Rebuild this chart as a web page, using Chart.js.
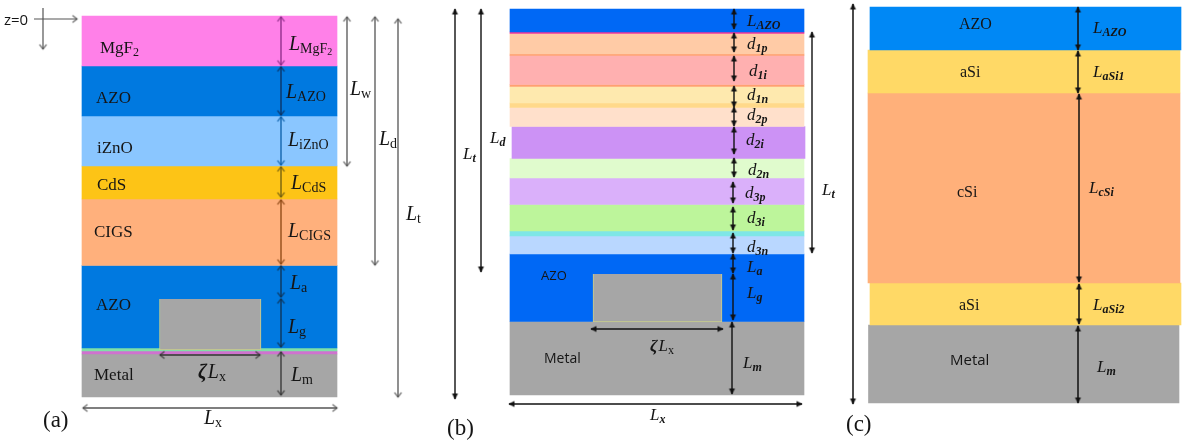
<!DOCTYPE html>
<html>
<head>
<meta charset="utf-8">
<title>Layer stacks</title>
<script src="https://cdn.jsdelivr.net/npm/chart.js@4"></script>
<style>
  html, body { margin: 0; padding: 0; background: #fff; }
  canvas { display: block; }
</style>
</head>
<body>
<canvas id="stackChart" width="1186" height="445"></canvas>
<script>
const layersA = ["MgF2", "AZO", "iZnO", "CdS", "CIGS", "AZO", "edge1", "edge2", "Metal"];
const edgesA = [16, 66, 116, 166, 199, 265.5, 348, 351, 354, 397];
const colorsA = ["#ff80e8", "#0079e0", "#8ac6ff", "#fdc416", "#ffb07c", "#0079e0", "#7ee0a8", "#cf72cf", "#a6a6a6"];
const leftA = [82, 82, 82, 82, 82, 82, 82, 82, 82];
const rightA = [337, 337, 337, 337, 337, 337, 337, 337, 337];

const layersB = ["AZO", "line0", "d1p", "line1", "d1i", "line2", "d1n", "line3", "d2p", "d2i", "d2n", "d3p", "d3i", "line4", "d3n", "AZO", "Metal"];
const edgesB = [9, 32, 33.5, 54, 55.5, 84.5, 86.5, 103, 107.5, 126.5, 158.5, 178, 204.5, 231, 236, 254, 321.5, 395];
const colorsB = ["#0068f5", "#f0359a", "#ffcba6", "#ff9f6e", "#ffb0b0", "#ffa070", "#fee9ae", "#ffd98a", "#ffe0cb", "#cc92f5", "#e0fbcd", "#dab0fa", "#bdf59b", "#7fe6e6", "#b9d7ff", "#0068f5", "#a6a6a6"];
const leftB = [510, 510, 510, 510, 510, 510, 510, 510, 510, 512, 510, 510, 510, 510, 510, 510, 510];
const rightB = [804, 804, 804, 804, 804, 804, 804, 804, 804, 805, 804, 804, 804, 804, 804, 804, 804];

const layersC = ["AZO", "aSi", "cSi", "aSi", "Metal"];
const edgesC = [7, 50, 93, 283, 325, 403];
const colorsC = ["#0088f5", "#ffd966", "#ffb07a", "#ffd966", "#a6a6a6"];
const leftC = [870, 868, 868, 870, 868.5];
const rightC = [1181, 1180, 1180, 1181, 1179];

// the raised metal block in (a) and (b): left, right, top, bottom
const gratingA = [159.5, 261, 299, 350];
const gratingB = [593, 722, 274, 322];

// dimension arrows: x1, y1, x2, y2
const arrowsA = [
  [281, 17, 281, 65], [281, 67, 281, 115], [281, 117, 281, 165], [281, 167, 281, 197],
  [281, 200, 281, 264], [281, 266, 281, 297], [281, 299, 281, 347], [281, 352, 281, 395],
  [160, 355, 260, 355], [83, 408, 337, 408],
  [347, 17, 347, 166], [375, 17, 375, 265], [398, 19, 398, 397]
];
const arrowColorsA = ["#8a2a86", "#0b2f5e", "#0a5ea8", "#6b5a10", "#8a4512", "#10304f", "#10304f", "#333", "#333", "#555", "#555", "#555", "#555"];
const originArrows = [[34, 19, 77, 19], [43, 8, 43, 49]];

const arrowsB = [
  [734, 9, 734, 29], [734, 33, 734, 52], [734, 56, 734, 81], [734, 86, 734, 107],
  [734, 107, 734, 126], [734, 127, 734, 154], [734, 158, 734, 177], [733, 182, 733, 203],
  [733, 207, 733, 230], [733, 233, 733, 253], [733, 254, 733, 273], [733, 274, 733, 320],
  [732, 322, 732, 394], [591, 329, 723, 329], [509, 404, 802, 404],
  [455, 9, 455, 399], [481, 9, 481, 272], [812, 32, 812, 253]
];
const arrowsC = [
  [1078, 7, 1078, 50], [1078, 51, 1078, 93], [1079, 94, 1079, 282], [1079, 284, 1079, 324],
  [1078, 326, 1078, 403], [853, 4, 853, 404]
];

// text: label, subscript, sub-subscript
const mathLabels = [
  ["L", "MgF", "2"], ["L", "AZO"], ["L", "iZnO"], ["L", "CdS"], ["L", "CIGS"],
  ["L", "a"], ["L", "g"], ["L", "m"], ["L", "x"], ["L", "w"], ["L", "d"], ["L", "t"],
  ["L", "AZO"], ["d", "1p"], ["d", "1i"], ["d", "1n"], ["d", "2p"], ["d", "2i"], ["d", "2n"],
  ["d", "3p"], ["d", "3i"], ["d", "3n"], ["L", "a"], ["L", "g"], ["L", "m"], ["L", "x"],
  ["L", "d"], ["L", "t"], ["L", "t"],
  ["L", "AZO"], ["L", "aSi1"], ["L", "cSi"], ["L", "aSi2"], ["L", "m"]
];
const mathSpots = [
  [289, 50], [286, 98], [288, 146], [291, 189], [288, 237],
  [290, 289], [288, 333], [291, 381], [204, 424], [350, 95], [379, 145], [406, 220],
  [747, 26], [747, 49], [749, 76], [747, 100], [747, 120], [746, 145], [748, 175],
  [745, 198], [747, 223], [747, 252], [747, 272], [747, 298], [743, 368], [650, 420],
  [490, 143], [463, 159], [822, 195],
  [1093, 33], [1093, 77], [1089, 193], [1093, 310], [1097, 372]
];
const plainLabels = ["AZO", "iZnO", "CdS", "CIGS", "AZO", "Metal", "(a)", "(b)", "(c)", "AZO", "aSi", "cSi", "aSi"];
const plainSpots = [[96, 103], [97, 153], [97, 190], [94, 237], [96, 310], [94, 380], [43, 427], [447, 435], [846, 431], [959, 29], [960, 77], [957, 197], [959, 310]];
const sansLabels = ["z=0", "AZO", "Metal", "Metal"];
const sansSpots = [[4, 25], [541, 280], [544, 363], [950, 365]];
const sansSizes = [15, 13, 14, 15];

function arrowHead(color, filled) {
  const c = document.createElement("canvas");
  c.width = 15;
  c.height = 15;
  const g = c.getContext("2d");
  g.strokeStyle = color;
  g.fillStyle = color;
  g.lineWidth = 1.2;
  g.beginPath();
  if (filled) {
    g.moveTo(7.5, 7);
    g.lineTo(10.5, 13);
    g.lineTo(4.5, 13);
    g.closePath();
    g.fill();
  } else {
    g.moveTo(4, 12);
    g.lineTo(7.5, 7.5);
    g.lineTo(11, 12);
    g.stroke();
  }
  return c;
}

function layerDatasets(names, edges, colors, left, right) {
  return names.map((name, i) => ({
    label: name,
    data: [{ x: (left[i] + right[i]) / 2, y: [edges[i], edges[i + 1]] }],
    backgroundColor: colors[i],
    barThickness: right[i] - left[i],
    grouped: false,
    order: 5
  }));
}

function blockDataset(block) {
  return {
    label: "block",
    data: [{ x: (block[0] + block[1]) / 2, y: [block[2], block[3]] }],
    backgroundColor: "#a6a6a6",
    borderColor: "#c9cf8a",
    borderWidth: 1,
    barThickness: block[1] - block[0],
    grouped: false,
    order: 1
  };
}

function arrowDataset(a, color, filled, width, oneEnded) {
  const vertical = a[0] === a[2];
  const head = arrowHead(color, filled);
  return {
    type: "scatter",
    label: "arrow",
    showLine: true,
    data: [{ x: a[0], y: a[1] }, { x: a[2], y: a[3] }],
    borderColor: color,
    borderWidth: width,
    pointStyle: head,
    pointRadius: oneEnded ? [0, 3] : 3,
    pointRotation: vertical ? [0, 180] : [270, 90],
    order: 0
  };
}

const datasets = [
  blockDataset(gratingA),
  blockDataset(gratingB),
  ...layerDatasets(layersA, edgesA, colorsA, leftA, rightA),
  ...layerDatasets(layersB, edgesB, colorsB, leftB, rightB),
  ...layerDatasets(layersC, edgesC, colorsC, leftC, rightC),
  ...arrowsA.map((a, i) => arrowDataset(a, arrowColorsA[i], false, 1.3, false)),
  ...originArrows.map(a => arrowDataset(a, "#555", false, 1.2, true)),
  ...arrowsB.map(a => arrowDataset(a, "#111", true, 1.4, false)),
  ...arrowsC.map(a => arrowDataset(a, "#111", true, 1.5, false))
];

const serif = '"Liberation Serif"';
const sans = '"Open Sans"';

const textPlugin = {
  id: "stackText",
  afterDatasetsDraw(chart) {
    const ctx = chart.ctx;
    const xs = chart.scales.x;
    const ys = chart.scales.y;
    ctx.save();
    ctx.textBaseline = "alphabetic";
    ctx.fillStyle = "#151515";

    mathLabels.forEach((parts, i) => {
      let x = xs.getPixelForValue(mathSpots[i][0]);
      const y = ys.getPixelForValue(mathSpots[i][1]);
      const panelA = i < 12;
      const big = panelA ? 20 : 17;
      const small = panelA ? 14 : 12;
      ctx.font = `italic ${big}px ${serif}`;
      ctx.fillText(parts[0], x, y);
      x += ctx.measureText(parts[0]).width;
      ctx.font = panelA ? `${small}px ${serif}` : `italic bold ${small}px ${serif}`;
      ctx.fillText(parts[1], x, y + 3);
      x += ctx.measureText(parts[1]).width;
      if (parts[2]) {
        ctx.font = `10px ${serif}`;
        ctx.fillText(parts[2], x, y + 5);
      }
    });

    plainLabels.forEach((t, i) => {
      const isPanel = t.charAt(0) === "(";
      const size = isPanel ? 23 : (i < 6 ? 17 : 16);
      ctx.font = `${size}px ${serif}`;
      ctx.fillText(t, xs.getPixelForValue(plainSpots[i][0]), ys.getPixelForValue(plainSpots[i][1]));
    });

    // MgF2 has its own subscript
    ctx.font = `17px ${serif}`;
    const mg = "MgF";
    ctx.fillText(mg, xs.getPixelForValue(100), ys.getPixelForValue(53));
    const mgW = ctx.measureText(mg).width;
    ctx.font = `12px ${serif}`;
    ctx.fillText("2", xs.getPixelForValue(100) + mgW, ys.getPixelForValue(56));

    sansLabels.forEach((t, i) => {
      ctx.font = `${sansSizes[i]}px ${sans}`;
      ctx.fillText(t, xs.getPixelForValue(sansSpots[i][0]), ys.getPixelForValue(sansSpots[i][1]));
    });

    // zeta L_x under the blocks
    [[198, 378, 20, 14], [650, 351, 17, 12]].forEach(s => {
      let x = xs.getPixelForValue(s[0]);
      const y = ys.getPixelForValue(s[1]);
      ctx.font = `italic bold ${s[2]}px ${serif}`;
      ctx.fillText("ζ", x, y);
      x += ctx.measureText("ζ").width + 1;
      ctx.font = `italic ${s[2]}px ${serif}`;
      ctx.fillText("L", x, y);
      x += ctx.measureText("L").width;
      ctx.font = `${s[3]}px ${serif}`;
      ctx.fillText("x", x, y + 3);
    });
    ctx.restore();
  }
};

new Chart(document.getElementById("stackChart").getContext("2d"), {
  type: "bar",
  data: { datasets },
  options: {
    responsive: false,
    animation: false,
    events: [],
    layout: { padding: 0, autoPadding: false },
    plugins: { legend: { display: false }, tooltip: { enabled: false } },
    scales: {
      x: { type: "linear", min: 0, max: 1186, offset: false, display: false },
      y: { type: "linear", min: 0, max: 445, reverse: true, display: false }
    }
  },
  plugins: [textPlugin]
});
</script>
</body>
</html>
